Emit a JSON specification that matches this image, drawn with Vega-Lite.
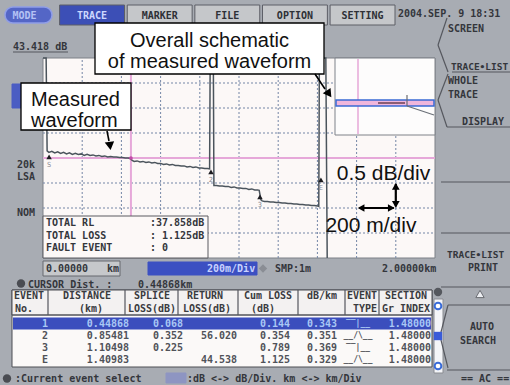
{
"$schema": "https://vega.github.io/schema/vega-lite/v6.json",
"width": 510, "height": 385, "padding": 0, "autosize": {"type": "none"},
"background": "#a8acb3",
"config": {"view": {"stroke": null}, "axis": {"disable": true}, "legend": {"disable": true}},
"data": {"values": [{}]},
"resolve": {"scale": {"x": "independent", "y": "independent", "color": "independent", "fill": "independent", "stroke": "independent", "shape": "independent"}},
"datasets": {
"tabs": [{"tab":"MODE","state":"mode"},{"tab":"TRACE","state":"active"},{"tab":"MARKER","state":"idle"},{"tab":"FILE","state":"idle"},{"tab":"OPTION","state":"idle"},{"tab":"SETTING","state":"idle"}],
"panels": [
{"part":"tag","z":"back","x":12,"x2":30,"y":84,"y2":108},
{"part":"field","z":"back","x":43,"x2":120,"y":261,"y2":276},
{"part":"bluebar","z":"back","x":148,"x2":257,"y":262,"y2":275},
{"part":"table","z":"back","x":12,"x2":432,"y":290,"y2":367},
{"part":"header","z":"back","x":12,"x2":432,"y":290,"y2":315},
{"part":"track","z":"back","x":434,"x2":443,"y":299,"y2":373},
{"part":"scalekey","z":"back","x":166,"x2":186,"y":373,"y2":383},
{"part":"infobox","z":"front","x":43,"x2":208,"y":216,"y2":258},
{"part":"inset","z":"front","x":335,"x2":435,"y":58,"y2":135}
],
"trace": [
{"km":0.000,"dB":45},{"km":0.016,"dB":45},{"km":0.021,"dB":41.56},{"km":0.030,"dB":41.53},{"km":0.045,"dB":41.55},{"km":0.060,"dB":41.52},{"km":0.075,"dB":41.54},{"km":0.090,"dB":41.51},{"km":0.105,"dB":41.53},{"km":0.120,"dB":41.50},{"km":0.135,"dB":41.52},{"km":0.150,"dB":41.49},{"km":0.165,"dB":41.51},{"km":0.180,"dB":41.49},{"km":0.195,"dB":41.50},{"km":0.210,"dB":41.47},{"km":0.225,"dB":41.49},{"km":0.240,"dB":41.47},{"km":0.255,"dB":41.48},{"km":0.270,"dB":41.46},{"km":0.285,"dB":41.47},{"km":0.300,"dB":41.45},{"km":0.315,"dB":41.46},{"km":0.330,"dB":41.44},{"km":0.345,"dB":41.45},{"km":0.360,"dB":41.44},{"km":0.375,"dB":41.44},{"km":0.390,"dB":41.43},{"km":0.405,"dB":41.43},{"km":0.420,"dB":41.42},{"km":0.435,"dB":41.42},{"km":0.445,"dB":41.41},
{"km":0.455,"dB":41.37},{"km":0.465,"dB":41.35},{"km":0.480,"dB":41.36},{"km":0.495,"dB":41.34},{"km":0.510,"dB":41.35},{"km":0.525,"dB":41.33},{"km":0.540,"dB":41.34},{"km":0.555,"dB":41.32},{"km":0.570,"dB":41.33},{"km":0.585,"dB":41.31},{"km":0.600,"dB":41.31},{"km":0.615,"dB":41.29},{"km":0.630,"dB":41.30},{"km":0.645,"dB":41.28},{"km":0.660,"dB":41.29},{"km":0.675,"dB":41.27},{"km":0.690,"dB":41.27},{"km":0.705,"dB":41.26},{"km":0.720,"dB":41.26},{"km":0.735,"dB":41.24},{"km":0.750,"dB":41.25},{"km":0.765,"dB":41.23},{"km":0.780,"dB":41.24},{"km":0.795,"dB":41.22},{"km":0.810,"dB":41.22},{"km":0.825,"dB":41.21},{"km":0.840,"dB":41.21},{"km":0.850,"dB":41.20},
{"km":0.853,"dB":45},{"km":0.869,"dB":45},{"km":0.872,"dB":40.87},{"km":0.885,"dB":40.87},{"km":0.900,"dB":40.86},{"km":0.915,"dB":40.86},{"km":0.930,"dB":40.85},{"km":0.945,"dB":40.85},{"km":0.960,"dB":40.83},{"km":0.975,"dB":40.84},{"km":0.990,"dB":40.82},{"km":1.005,"dB":40.82},{"km":1.020,"dB":40.81},{"km":1.035,"dB":40.81},{"km":1.050,"dB":40.79},{"km":1.065,"dB":40.80},{"km":1.080,"dB":40.78},{"km":1.095,"dB":40.78},{"km":1.103,"dB":40.77},
{"km":1.112,"dB":40.58},{"km":1.118,"dB":40.56},{"km":1.130,"dB":40.55},{"km":1.145,"dB":40.55},{"km":1.160,"dB":40.54},{"km":1.175,"dB":40.54},{"km":1.190,"dB":40.53},{"km":1.205,"dB":40.53},{"km":1.220,"dB":40.52},{"km":1.235,"dB":40.52},{"km":1.250,"dB":40.51},{"km":1.265,"dB":40.51},{"km":1.280,"dB":40.50},{"km":1.295,"dB":40.50},{"km":1.310,"dB":40.49},{"km":1.325,"dB":40.49},{"km":1.340,"dB":40.48},{"km":1.355,"dB":40.48},{"km":1.370,"dB":40.47},{"km":1.385,"dB":40.47},{"km":1.400,"dB":40.46},{"km":1.407,"dB":40.45},
{"km":1.410,"dB":45},{"km":1.443,"dB":45},{"km":1.450,"dB":38}
],
"gridx": [{"km":0.2},{"km":0.4},{"km":0.6},{"km":0.8},{"km":1.0},{"km":1.2},{"km":1.4},{"km":1.6},{"km":1.8}],
"gridy": [{"dB":39.918},{"dB":40.418},{"dB":40.918},{"dB":41.418},{"dB":41.918},{"dB":42.418},{"dB":42.918}],
"markers": [{"km":0.031,"dB":41.44,"lab":"S"},{"km":0.857,"dB":41.14,"lab":"2"},{"km":1.107,"dB":40.64,"lab":"3"},{"km":1.418,"dB":40.98,"lab":"E"}],
"uilines": [
{"x":13,"y":52,"x2":68,"y2":52},
{"x":48,"y":290,"x2":48,"y2":315},{"x":125,"y":290,"x2":125,"y2":315},{"x":178,"y":290,"x2":178,"y2":315},{"x":238,"y":290,"x2":238,"y2":315},{"x":298,"y":290,"x2":298,"y2":315},{"x":345,"y":290,"x2":345,"y2":315},{"x":379,"y":290,"x2":379,"y2":315},
{"x":12,"y":315,"x2":432,"y2":315},
{"x":447,"y":18,"x2":438,"y2":45},{"x":438,"y":45,"x2":448,"y2":72},{"x":452,"y":72,"x2":510,"y2":72},
{"x":448,"y":74,"x2":438,"y2":100},{"x":438,"y":100,"x2":447,"y2":127},{"x":447,"y":127,"x2":510,"y2":127},
{"x":441,"y":182,"x2":510,"y2":182},{"x":441,"y":233,"x2":510,"y2":233},{"x":441,"y":287,"x2":510,"y2":287},
{"x":448,"y":305,"x2":510,"y2":305},{"x":448,"y":305,"x2":440,"y2":336},{"x":440,"y":336,"x2":448,"y2":368},{"x":447,"y":370,"x2":510,"y2":370}
],
"hdr": [
{"t":"EVENT","x":29,"y":296},{"t":"No.","x":24,"y":308.5},
{"t":"DISTANCE","x":87,"y":296},{"t":"(km)","x":91,"y":308.5},
{"t":"SPLICE","x":152,"y":296},{"t":"LOSS(dB)","x":152,"y":308.5},
{"t":"RETURN","x":205,"y":296},{"t":"LOSS(dB)","x":207,"y":308.5},
{"t":"Cum LOSS","x":268,"y":296},{"t":"(dB)","x":263,"y":308.5},
{"t":"dB/km","x":322,"y":296},
{"t":"EVENT","x":362,"y":296},{"t":"TYPE","x":365,"y":308.5},
{"t":"SECTION","x":406,"y":296},{"t":"Gr INDEX","x":406,"y":308.5}
],
"events": [
{"event":"1","distance":0.44868,"splice":0.068,"cum":0.144,"dbkm":0.343,"type":"non-reflective","gi":1.48,"sel":"yes"},
{"event":"2","distance":0.85481,"splice":0.352,"ret":56.020,"cum":0.354,"dbkm":0.351,"type":"reflective","gi":1.48,"sel":"no"},
{"event":"3","distance":1.10498,"splice":0.225,"cum":0.789,"dbkm":0.369,"type":"non-reflective","gi":1.48,"sel":"no"},
{"event":"E","distance":1.40983,"ret":44.538,"cum":1.125,"dbkm":0.329,"type":"reflective","gi":1.48,"sel":"no"}
],
"uitext": [
{"t":"2004.SEP. 9  18:31","x":398,"y":14},
{"t":"43.418 dB","x":13,"y":46.5},
{"t":"20k","x":17,"y":165},{"t":"LSA","x":17,"y":177},{"t":"NOM","x":17,"y":213},
{"t":"TOTAL RL","x":46,"y":222.5},{"t":"TOTAL LOSS","x":46,"y":235.5},{"t":"FAULT EVENT","x":46,"y":248},
{"t":":37.858dB","x":150,"y":222.5},{"t":":  1.125dB","x":150,"y":235.5},{"t":":  0","x":150,"y":248},
{"t":"0.00000","x":46,"y":269},{"t":"km","x":107,"y":269},{"t":"SMP:1m","x":275,"y":269},{"t":"2.00000km","x":382,"y":269},
{"t":"CURSOR Dist. :","x":28,"y":284.5},{"t":"0.44868km","x":138,"y":284.5},
{"t":":Current event select","x":15,"y":379},{"t":":dB <-> dB/Div. km <-> km/Div","x":187,"y":379},
{"t":"== AC ==","x":461,"y":378.5},
{"t":"SCREEN","x":448,"y":29},{"t":"WHOLE","x":448,"y":81},{"t":"TRACE","x":448,"y":95},{"t":"DISPLAY","x":462,"y":122},
{"t":"PRINT","x":468,"y":268},{"t":"AUTO","x":470,"y":327},{"t":"SEARCH","x":460,"y":341}
],
"menutext": [{"t":"TRACE•LIST","x":451,"y":67},{"t":"TRACE•LIST","x":447,"y":255}],
"lighttext": [{"t":"200m/Div","x":207,"y":268.5}],
"icons": [{"kind":"knob","x":438,"y":292},{"kind":"thumb","x":438,"y":336},{"kind":"cursor","x":21,"y":283.5},{"kind":"select","x":7,"y":378.5},{"kind":"smp","x":263,"y":268.5}],
"btns": [{"x":438,"y":306},{"x":438,"y":366}],
"boxes": [{"x":95,"x2":324,"y":23,"y2":74},{"x":21,"x2":131,"y":83,"y2":130}],
"notes": [{"t":"Overall schematic","x":209.5,"y":46.5},{"t":"of measured waveform","x":209.5,"y":67.5}],
"notes2": [{"t":"Measured","x":31,"y":106},{"t":"waveform","x":31,"y":126.5}],
"arrowlines": [{"x":107,"y":131,"x2":109,"y2":141},{"x":315,"y":74,"x2":325,"y2":89}],
"dheads": [{"km":1.8,"dB":40.85,"dir":"up"},{"km":1.8,"dB":40.49,"dir":"down"},{"km":1.623,"dB":40.418,"dir":"left"},{"km":1.777,"dB":40.418,"dir":"right"}],
"scalenotes": [{"t":"0.5 dB/div","km":1.737,"dB":40.978},{"t":"200 m/div","km":1.673,"dB":39.938}]
},
"layer": [
{"mark":{"type":"rect","cornerRadius":8,"fill":"#5466c6","stroke":"#8f9de8","strokeWidth":1.5},
 "encoding":{"x":{"datum":5,"type":"quantitative","scale":{"domain":[0,510],"range":[0,510],"nice":false,"zero":false}},"x2":{"datum":52},"y":{"datum":7,"type":"quantitative","scale":{"domain":[0,385],"range":[0,385],"nice":false,"zero":false}},"y2":{"datum":23}}},
{"data":{"name":"tabs"},"transform":[{"filter":"datum.state !== 'mode'"}],
 "mark":{"type":"rect","stroke":"#5c5e66","strokeWidth":1},
 "encoding":{"x":{"field":"tab","type":"nominal","scale":{"type":"band","domain":["MODE","TRACE","MARKER","FILE","OPTION","SETTING"],"range":[-8,395],"paddingInner":0.04,"paddingOuter":0}},
  "y":{"datum":5,"type":"quantitative","scale":{"domain":[0,385],"range":[0,385],"nice":false,"zero":false}},"y2":{"datum":25},
  "fill":{"field":"state","type":"nominal","scale":{"domain":["active","idle"],"range":["#3c4fb6","#c5c7ca"]}}}},
{"data":{"name":"tabs"},
 "mark":{"type":"text","font":"DejaVu Sans Mono","fontWeight":"bold","fontSize":10,"baseline":"middle","align":"center"},
 "encoding":{"x":{"field":"tab","type":"nominal","scale":{"type":"band","domain":["MODE","TRACE","MARKER","FILE","OPTION","SETTING"],"range":[-8,395],"paddingInner":0.04,"paddingOuter":0}},
  "y":{"datum":15.5,"type":"quantitative","scale":{"domain":[0,385],"range":[0,385],"nice":false,"zero":false}},
  "text":{"field":"tab"},
  "color":{"field":"state","type":"nominal","scale":{"domain":["mode","active","idle"],"range":["#b4c2f4","#cdd8ff","#2e3036"]}}}},
{"data":{"name":"panels"},"transform":[{"filter":"datum.z === 'back'"}],
 "mark":{"type":"rect","strokeWidth":1},
 "encoding":{"x":{"field":"x","type":"quantitative","scale":{"domain":[0,510],"range":[0,510],"nice":false,"zero":false}},"x2":{"field":"x2"},
  "y":{"field":"y","type":"quantitative","scale":{"domain":[0,385],"range":[0,385],"nice":false,"zero":false}},"y2":{"field":"y2"},
  "fill":{"field":"part","type":"nominal","scale":{"domain":["tag","field","bluebar","table","header","track","scalekey","infobox","inset"],"range":["#4b5dc3","#c6c8cb","#3c50c2","#fbf9f8","#f3f1f1","#f4f5f8","#8e95c2","#fcf8f7","#fdfcfc"]}},
  "stroke":{"field":"part","type":"nominal","scale":{"domain":["tag","field","bluebar","table","header","track","scalekey","infobox","inset"],"range":["#4b5dc3","#66686e","#3c50c2","#4c4e54","#4c4e54","#8a8c92","#8e95c2","#5a5b60","#7f8289"]}}}},
{"mark":{"type":"rect","fill":"#fcf8f7","stroke":"#7d8087","strokeWidth":1},
 "encoding":{"x":{"datum":0,"type":"quantitative","scale":{"domain":[0,2],"range":[43,435],"nice":false,"zero":false}},"x2":{"datum":2},
  "y":{"datum":39.418,"type":"quantitative","scale":{"domain":[39.418,43.418],"range":[258,58],"nice":false,"zero":false,"clamp":true}},"y2":{"datum":43.418}}},
{"data":{"name":"gridx"},"mark":{"type":"rule","stroke":"#7486a6","strokeWidth":1,"strokeDash":[2,2]},
 "encoding":{"x":{"field":"km","type":"quantitative","scale":{"domain":[0,2],"range":[43,435],"nice":false,"zero":false}},
  "y":{"datum":39.418,"type":"quantitative","scale":{"domain":[39.418,43.418],"range":[258,58],"nice":false,"zero":false,"clamp":true}},"y2":{"datum":43.418}}},
{"data":{"name":"gridy"},"mark":{"type":"rule","stroke":"#7486a6","strokeWidth":1,"strokeDash":[2,2]},
 "encoding":{"x":{"datum":0,"type":"quantitative","scale":{"domain":[0,2],"range":[43,435],"nice":false,"zero":false}},"x2":{"datum":2},
  "y":{"field":"dB","type":"quantitative","scale":{"domain":[39.418,43.418],"range":[258,58],"nice":false,"zero":false,"clamp":true}}}},
{"mark":{"type":"rule","stroke":"#e6a8d9","strokeWidth":2},
 "encoding":{"x":{"datum":0.44868,"type":"quantitative","scale":{"domain":[0,2],"range":[43,435],"nice":false,"zero":false}},
  "y":{"datum":39.418,"type":"quantitative","scale":{"domain":[39.418,43.418],"range":[258,58],"nice":false,"zero":false,"clamp":true}},"y2":{"datum":43.418}}},
{"mark":{"type":"rule","stroke":"#e6a8d9","strokeWidth":2},
 "encoding":{"x":{"datum":0,"type":"quantitative","scale":{"domain":[0,2],"range":[43,435],"nice":false,"zero":false}},"x2":{"datum":2},
  "y":{"datum":41.418,"type":"quantitative","scale":{"domain":[39.418,43.418],"range":[258,58],"nice":false,"zero":false,"clamp":true}}}},
{"data":{"name":"trace"},"mark":{"type":"line","stroke":"#4b545c","strokeWidth":1.5},
 "encoding":{"x":{"field":"km","type":"quantitative","scale":{"domain":[0,2],"range":[43,435],"nice":false,"zero":false}},
  "y":{"field":"dB","type":"quantitative","scale":{"domain":[39.418,43.418],"range":[258,58],"nice":false,"zero":false,"clamp":true}},
  "order":{"field":"km","type":"quantitative"}}},
{"data":{"name":"markers"},"mark":{"type":"point","shape":"triangle-up","filled":true,"fill":"#1c1c20","size":30,"opacity":1},
 "encoding":{"x":{"field":"km","type":"quantitative","scale":{"domain":[0,2],"range":[43,435],"nice":false,"zero":false}},
  "y":{"field":"dB","type":"quantitative","scale":{"domain":[39.418,43.418],"range":[258,58],"nice":false,"zero":false,"clamp":true}}}},
{"data":{"name":"markers"},"mark":{"type":"text","font":"DejaVu Sans Mono","fontSize":7,"dy":8,"color":"#8a8a92","baseline":"middle"},
 "encoding":{"x":{"field":"km","type":"quantitative","scale":{"domain":[0,2],"range":[43,435],"nice":false,"zero":false}},
  "y":{"field":"dB","type":"quantitative","scale":{"domain":[39.418,43.418],"range":[258,58],"nice":false,"zero":false,"clamp":true}},
  "text":{"field":"lab"}}},
{"mark":{"type":"point","filled":true,"fill":"#c24aa8","size":14,"opacity":1},
 "encoding":{"x":{"datum":0.44868,"type":"quantitative","scale":{"domain":[0,2],"range":[43,435],"nice":false,"zero":false}},
  "y":{"datum":41.418,"type":"quantitative","scale":{"domain":[39.418,43.418],"range":[258,58],"nice":false,"zero":false,"clamp":true}}}},
{"data":{"name":"panels"},"transform":[{"filter":"datum.z === 'front'"}],
 "mark":{"type":"rect","strokeWidth":1},
 "encoding":{"x":{"field":"x","type":"quantitative","scale":{"domain":[0,510],"range":[0,510],"nice":false,"zero":false}},"x2":{"field":"x2"},
  "y":{"field":"y","type":"quantitative","scale":{"domain":[0,385],"range":[0,385],"nice":false,"zero":false}},"y2":{"field":"y2"},
  "fill":{"field":"part","type":"nominal","scale":{"domain":["tag","field","bluebar","table","header","track","scalekey","infobox","inset"],"range":["#4b5dc3","#c6c8cb","#3c50c2","#fbf9f8","#f3f1f1","#f4f5f8","#8e95c2","#fcf8f7","#fdfcfc"]}},
  "stroke":{"field":"part","type":"nominal","scale":{"domain":["tag","field","bluebar","table","header","track","scalekey","infobox","inset"],"range":["#4b5dc3","#66686e","#3c50c2","#4c4e54","#4c4e54","#8a8c92","#8e95c2","#5a5b60","#7f8289"]}}}},
{"mark":{"type":"rule","stroke":"#e6a8d9","strokeWidth":1.5},
 "encoding":{"x":{"datum":358,"type":"quantitative","scale":{"domain":[0,510],"range":[0,510],"nice":false,"zero":false}},
  "y":{"datum":59,"type":"quantitative","scale":{"domain":[0,385],"range":[0,385],"nice":false,"zero":false}},"y2":{"datum":134}}},
{"mark":{"type":"rect","fill":"#f0b6dc","stroke":"#3a6ad4","strokeWidth":1.5},
 "encoding":{"x":{"datum":336,"type":"quantitative","scale":{"domain":[0,510],"range":[0,510],"nice":false,"zero":false}},"x2":{"datum":434},
  "y":{"datum":100,"type":"quantitative","scale":{"domain":[0,385],"range":[0,385],"nice":false,"zero":false}},"y2":{"datum":106}}},
{"mark":{"type":"rule","stroke":"#8c5c74","strokeWidth":2},
 "encoding":{"x":{"datum":378,"type":"quantitative","scale":{"domain":[0,510],"range":[0,510],"nice":false,"zero":false}},"x2":{"datum":405},
  "y":{"datum":103,"type":"quantitative","scale":{"domain":[0,385],"range":[0,385],"nice":false,"zero":false}}}},
{"mark":{"type":"rule","stroke":"#6a6c72","strokeWidth":1.2},
 "encoding":{"x":{"datum":407,"type":"quantitative","scale":{"domain":[0,510],"range":[0,510],"nice":false,"zero":false}},
  "y":{"datum":95,"type":"quantitative","scale":{"domain":[0,385],"range":[0,385],"nice":false,"zero":false}},"y2":{"datum":106}}},
{"mark":{"type":"rule","stroke":"#6a7078","strokeWidth":1.2},
 "encoding":{"x":{"datum":407,"type":"quantitative","scale":{"domain":[0,510],"range":[0,510],"nice":false,"zero":false}},"x2":{"datum":434},
  "y":{"datum":106,"type":"quantitative","scale":{"domain":[0,385],"range":[0,385],"nice":false,"zero":false}},"y2":{"datum":115}}},
{"data":{"name":"uilines"},"mark":{"type":"rule","stroke":"#55575e","strokeWidth":1.2},
 "encoding":{"x":{"field":"x","type":"quantitative","scale":{"domain":[0,510],"range":[0,510],"nice":false,"zero":false}},"x2":{"field":"x2"},
  "y":{"field":"y","type":"quantitative","scale":{"domain":[0,385],"range":[0,385],"nice":false,"zero":false}},"y2":{"field":"y2"}}},
{"data":{"name":"events"},"transform":[{"filter":"datum.sel === 'yes'"}],"mark":{"type":"rect","fill":"#3b4ebd"},
 "encoding":{"x":{"datum":13,"type":"quantitative","scale":{"domain":[0,510],"range":[0,510],"nice":false,"zero":false}},"x2":{"datum":431},
  "y":{"field":"event","type":"ordinal","scale":{"type":"band","domain":["1","2","3","E"],"range":[317.5,365.5],"paddingInner":0,"paddingOuter":0}}}},
{"data":{"name":"hdr"},"mark":{"type":"text","font":"DejaVu Sans Mono","fontWeight":"bold","fontSize":10,"baseline":"middle","align":"center","color":"#3a3b40"},
 "encoding":{"x":{"field":"x","type":"quantitative","scale":{"domain":[0,510],"range":[0,510],"nice":false,"zero":false}},
  "y":{"field":"y","type":"quantitative","scale":{"domain":[0,385],"range":[0,385],"nice":false,"zero":false}},"text":{"field":"t"}}},
{"data":{"name":"events"},"mark":{"type":"text","font":"DejaVu Sans Mono","fontWeight":"bold","fontSize":10,"baseline":"middle","align":"right"},
 "encoding":{"x":{"datum":48,"type":"quantitative","scale":{"domain":[0,510],"range":[0,510],"nice":false,"zero":false}},
  "y":{"field":"event","type":"ordinal","scale":{"type":"band","domain":["1","2","3","E"],"range":[317.5,365.5],"paddingInner":0,"paddingOuter":0}},
  "text":{"field":"event"},
  "color":{"field":"sel","type":"nominal","scale":{"domain":["yes","no"],"range":["#a9c8f5","#505258"]}}}},
{"data":{"name":"events"},"mark":{"type":"text","font":"DejaVu Sans Mono","fontWeight":"bold","fontSize":10,"baseline":"middle","align":"right"},
 "encoding":{"x":{"datum":129,"type":"quantitative","scale":{"domain":[0,510],"range":[0,510],"nice":false,"zero":false}},
  "y":{"field":"event","type":"ordinal","scale":{"type":"band","domain":["1","2","3","E"],"range":[317.5,365.5],"paddingInner":0,"paddingOuter":0}},
  "text":{"field":"distance","type":"quantitative","format":".5f"},
  "color":{"field":"sel","type":"nominal","scale":{"domain":["yes","no"],"range":["#a9c8f5","#505258"]}}}},
{"data":{"name":"events"},"transform":[{"filter":"isValid(datum.splice)"}],"mark":{"type":"text","font":"DejaVu Sans Mono","fontWeight":"bold","fontSize":10,"baseline":"middle","align":"right"},
 "encoding":{"x":{"datum":183,"type":"quantitative","scale":{"domain":[0,510],"range":[0,510],"nice":false,"zero":false}},
  "y":{"field":"event","type":"ordinal","scale":{"type":"band","domain":["1","2","3","E"],"range":[317.5,365.5],"paddingInner":0,"paddingOuter":0}},
  "text":{"field":"splice","type":"quantitative","format":".3f"},
  "color":{"field":"sel","type":"nominal","scale":{"domain":["yes","no"],"range":["#a9c8f5","#505258"]}}}},
{"data":{"name":"events"},"transform":[{"filter":"isValid(datum.ret)"}],"mark":{"type":"text","font":"DejaVu Sans Mono","fontWeight":"bold","fontSize":10,"baseline":"middle","align":"right"},
 "encoding":{"x":{"datum":237,"type":"quantitative","scale":{"domain":[0,510],"range":[0,510],"nice":false,"zero":false}},
  "y":{"field":"event","type":"ordinal","scale":{"type":"band","domain":["1","2","3","E"],"range":[317.5,365.5],"paddingInner":0,"paddingOuter":0}},
  "text":{"field":"ret","type":"quantitative","format":".3f"},
  "color":{"field":"sel","type":"nominal","scale":{"domain":["yes","no"],"range":["#a9c8f5","#505258"]}}}},
{"data":{"name":"events"},"mark":{"type":"text","font":"DejaVu Sans Mono","fontWeight":"bold","fontSize":10,"baseline":"middle","align":"right"},
 "encoding":{"x":{"datum":290,"type":"quantitative","scale":{"domain":[0,510],"range":[0,510],"nice":false,"zero":false}},
  "y":{"field":"event","type":"ordinal","scale":{"type":"band","domain":["1","2","3","E"],"range":[317.5,365.5],"paddingInner":0,"paddingOuter":0}},
  "text":{"field":"cum","type":"quantitative","format":".3f"},
  "color":{"field":"sel","type":"nominal","scale":{"domain":["yes","no"],"range":["#a9c8f5","#505258"]}}}},
{"data":{"name":"events"},"mark":{"type":"text","font":"DejaVu Sans Mono","fontWeight":"bold","fontSize":10,"baseline":"middle","align":"right"},
 "encoding":{"x":{"datum":337,"type":"quantitative","scale":{"domain":[0,510],"range":[0,510],"nice":false,"zero":false}},
  "y":{"field":"event","type":"ordinal","scale":{"type":"band","domain":["1","2","3","E"],"range":[317.5,365.5],"paddingInner":0,"paddingOuter":0}},
  "text":{"field":"dbkm","type":"quantitative","format":".3f"},
  "color":{"field":"sel","type":"nominal","scale":{"domain":["yes","no"],"range":["#a9c8f5","#505258"]}}}},
{"data":{"name":"events"},"transform":[{"filter":"datum.type === 'non-reflective'"}],"mark":{"type":"text","font":"DejaVu Sans Mono","fontWeight":"bold","fontSize":8,"baseline":"middle","align":"center","text":"‾‾|__"},
 "encoding":{"x":{"datum":358,"type":"quantitative","scale":{"domain":[0,510],"range":[0,510],"nice":false,"zero":false}},
  "y":{"field":"event","type":"ordinal","scale":{"type":"band","domain":["1","2","3","E"],"range":[317.5,365.5],"paddingInner":0,"paddingOuter":0}},
  "color":{"field":"sel","type":"nominal","scale":{"domain":["yes","no"],"range":["#a9c8f5","#505258"]}}}},
{"data":{"name":"events"},"transform":[{"filter":"datum.type === 'reflective'"}],"mark":{"type":"text","font":"DejaVu Sans Mono","fontWeight":"bold","fontSize":8,"baseline":"middle","align":"center","text":"__/\\__"},
 "encoding":{"x":{"datum":358,"type":"quantitative","scale":{"domain":[0,510],"range":[0,510],"nice":false,"zero":false}},
  "y":{"field":"event","type":"ordinal","scale":{"type":"band","domain":["1","2","3","E"],"range":[317.5,365.5],"paddingInner":0,"paddingOuter":0}},
  "color":{"field":"sel","type":"nominal","scale":{"domain":["yes","no"],"range":["#a9c8f5","#505258"]}}}},
{"data":{"name":"events"},"mark":{"type":"text","font":"DejaVu Sans Mono","fontWeight":"bold","fontSize":10,"baseline":"middle","align":"right"},
 "encoding":{"x":{"datum":431,"type":"quantitative","scale":{"domain":[0,510],"range":[0,510],"nice":false,"zero":false}},
  "y":{"field":"event","type":"ordinal","scale":{"type":"band","domain":["1","2","3","E"],"range":[317.5,365.5],"paddingInner":0,"paddingOuter":0}},
  "text":{"field":"gi","type":"quantitative","format":".5f"},
  "color":{"field":"sel","type":"nominal","scale":{"domain":["yes","no"],"range":["#a9c8f5","#505258"]}}}},
{"data":{"name":"uitext"},"mark":{"type":"text","font":"DejaVu Sans Mono","fontWeight":"bold","fontSize":10,"baseline":"middle","align":"left","color":"#34363c"},
 "encoding":{"x":{"field":"x","type":"quantitative","scale":{"domain":[0,510],"range":[0,510],"nice":false,"zero":false}},
  "y":{"field":"y","type":"quantitative","scale":{"domain":[0,385],"range":[0,385],"nice":false,"zero":false}},"text":{"field":"t"}}},
{"data":{"name":"menutext"},"mark":{"type":"text","font":"DejaVu Sans Mono","fontWeight":"bold","fontSize":9.5,"baseline":"middle","align":"left","color":"#34363c"},
 "encoding":{"x":{"field":"x","type":"quantitative","scale":{"domain":[0,510],"range":[0,510],"nice":false,"zero":false}},
  "y":{"field":"y","type":"quantitative","scale":{"domain":[0,385],"range":[0,385],"nice":false,"zero":false}},"text":{"field":"t"}}},
{"data":{"name":"lighttext"},"mark":{"type":"text","font":"DejaVu Sans Mono","fontWeight":"bold","fontSize":10,"baseline":"middle","align":"left","color":"#c8d2ff"},
 "encoding":{"x":{"field":"x","type":"quantitative","scale":{"domain":[0,510],"range":[0,510],"nice":false,"zero":false}},
  "y":{"field":"y","type":"quantitative","scale":{"domain":[0,385],"range":[0,385],"nice":false,"zero":false}},"text":{"field":"t"}}},
{"data":{"name":"icons"},"mark":{"type":"point","filled":true,"size":70,"opacity":1},
 "encoding":{"x":{"field":"x","type":"quantitative","scale":{"domain":[0,510],"range":[0,510],"nice":false,"zero":false}},
  "y":{"field":"y","type":"quantitative","scale":{"domain":[0,385],"range":[0,385],"nice":false,"zero":false}},
  "fill":{"field":"kind","type":"nominal","scale":{"domain":["knob","thumb","cursor","select","smp"],"range":["#55585e","#3a5cd8","#4a4c52","#4a4c52","#8a8d94"]}},
  "shape":{"field":"kind","type":"nominal","scale":{"domain":["knob","thumb","cursor","select","smp"],"range":["circle","square","circle","circle","diamond"]}}}},
{"data":{"name":"btns"},"mark":{"type":"point","shape":"circle","filled":true,"fill":"#ffffff","stroke":"#3a6cd8","strokeWidth":2,"size":45,"opacity":1},
 "encoding":{"x":{"field":"x","type":"quantitative","scale":{"domain":[0,510],"range":[0,510],"nice":false,"zero":false}},
  "y":{"field":"y","type":"quantitative","scale":{"domain":[0,385],"range":[0,385],"nice":false,"zero":false}}}},
{"mark":{"type":"point","shape":"triangle-up","filled":true,"fill":"#eceef2","stroke":"#6a6c72","strokeWidth":1,"size":70,"opacity":1},
 "encoding":{"x":{"datum":480,"type":"quantitative","scale":{"domain":[0,510],"range":[0,510],"nice":false,"zero":false}},
  "y":{"datum":294,"type":"quantitative","scale":{"domain":[0,385],"range":[0,385],"nice":false,"zero":false}}}},
{"data":{"name":"boxes"},"mark":{"type":"rect","fill":"#ffffff","stroke":"#000000","strokeWidth":1.3},
 "encoding":{"x":{"field":"x","type":"quantitative","scale":{"domain":[0,510],"range":[0,510],"nice":false,"zero":false}},"x2":{"field":"x2"},
  "y":{"field":"y","type":"quantitative","scale":{"domain":[0,385],"range":[0,385],"nice":false,"zero":false}},"y2":{"field":"y2"}}},
{"data":{"name":"notes"},"mark":{"type":"text","font":"Liberation Sans","fontSize":20,"align":"center","baseline":"alphabetic","color":"#111111"},
 "encoding":{"x":{"field":"x","type":"quantitative","scale":{"domain":[0,510],"range":[0,510],"nice":false,"zero":false}},
  "y":{"field":"y","type":"quantitative","scale":{"domain":[0,385],"range":[0,385],"nice":false,"zero":false}},"text":{"field":"t"}}},
{"data":{"name":"notes2"},"mark":{"type":"text","font":"Liberation Sans","fontSize":20,"align":"left","baseline":"alphabetic","color":"#111111"},
 "encoding":{"x":{"field":"x","type":"quantitative","scale":{"domain":[0,510],"range":[0,510],"nice":false,"zero":false}},
  "y":{"field":"y","type":"quantitative","scale":{"domain":[0,385],"range":[0,385],"nice":false,"zero":false}},"text":{"field":"t"}}},
{"data":{"name":"arrowlines"},"mark":{"type":"rule","stroke":"#000000","strokeWidth":1.6},
 "encoding":{"x":{"field":"x","type":"quantitative","scale":{"domain":[0,510],"range":[0,510],"nice":false,"zero":false}},"x2":{"field":"x2"},
  "y":{"field":"y","type":"quantitative","scale":{"domain":[0,385],"range":[0,385],"nice":false,"zero":false}},"y2":{"field":"y2"}}},
{"mark":{"type":"point","shape":"triangle-down","filled":true,"fill":"#000000","size":90,"angle":352,"opacity":1},
 "encoding":{"x":{"datum":110,"type":"quantitative","scale":{"domain":[0,510],"range":[0,510],"nice":false,"zero":false}},
  "y":{"datum":146,"type":"quantitative","scale":{"domain":[0,385],"range":[0,385],"nice":false,"zero":false}}}},
{"mark":{"type":"point","shape":"triangle-down","filled":true,"fill":"#000000","size":90,"angle":325,"opacity":1},
 "encoding":{"x":{"datum":329,"type":"quantitative","scale":{"domain":[0,510],"range":[0,510],"nice":false,"zero":false}},
  "y":{"datum":94,"type":"quantitative","scale":{"domain":[0,385],"range":[0,385],"nice":false,"zero":false}}}},
{"mark":{"type":"rule","stroke":"#000000","strokeWidth":2.2},
 "encoding":{"x":{"datum":1.8,"type":"quantitative","scale":{"domain":[0,2],"range":[43,435],"nice":false,"zero":false}},
  "y":{"datum":40.45,"type":"quantitative","scale":{"domain":[39.418,43.418],"range":[258,58],"nice":false,"zero":false,"clamp":true}},"y2":{"datum":40.9}}},
{"mark":{"type":"rule","stroke":"#000000","strokeWidth":2.2},
 "encoding":{"x":{"datum":1.615,"type":"quantitative","scale":{"domain":[0,2],"range":[43,435],"nice":false,"zero":false}},"x2":{"datum":1.79},
  "y":{"datum":40.418,"type":"quantitative","scale":{"domain":[39.418,43.418],"range":[258,58],"nice":false,"zero":false,"clamp":true}}}},
{"data":{"name":"dheads"},"mark":{"type":"point","filled":true,"fill":"#000000","size":60,"opacity":1},
 "encoding":{"x":{"field":"km","type":"quantitative","scale":{"domain":[0,2],"range":[43,435],"nice":false,"zero":false}},
  "y":{"field":"dB","type":"quantitative","scale":{"domain":[39.418,43.418],"range":[258,58],"nice":false,"zero":false,"clamp":true}},
  "shape":{"field":"dir","type":"nominal","scale":{"domain":["up","down","left","right"],"range":["triangle-up","triangle-down","triangle-left","triangle-right"]}}}},
{"data":{"name":"scalenotes"},"mark":{"type":"text","font":"Liberation Sans","fontSize":21,"align":"center","baseline":"alphabetic","color":"#111111"},
 "encoding":{"x":{"field":"km","type":"quantitative","scale":{"domain":[0,2],"range":[43,435],"nice":false,"zero":false}},
  "y":{"field":"dB","type":"quantitative","scale":{"domain":[39.418,43.418],"range":[258,58],"nice":false,"zero":false,"clamp":true}},
  "text":{"field":"t"}}}
]
}
